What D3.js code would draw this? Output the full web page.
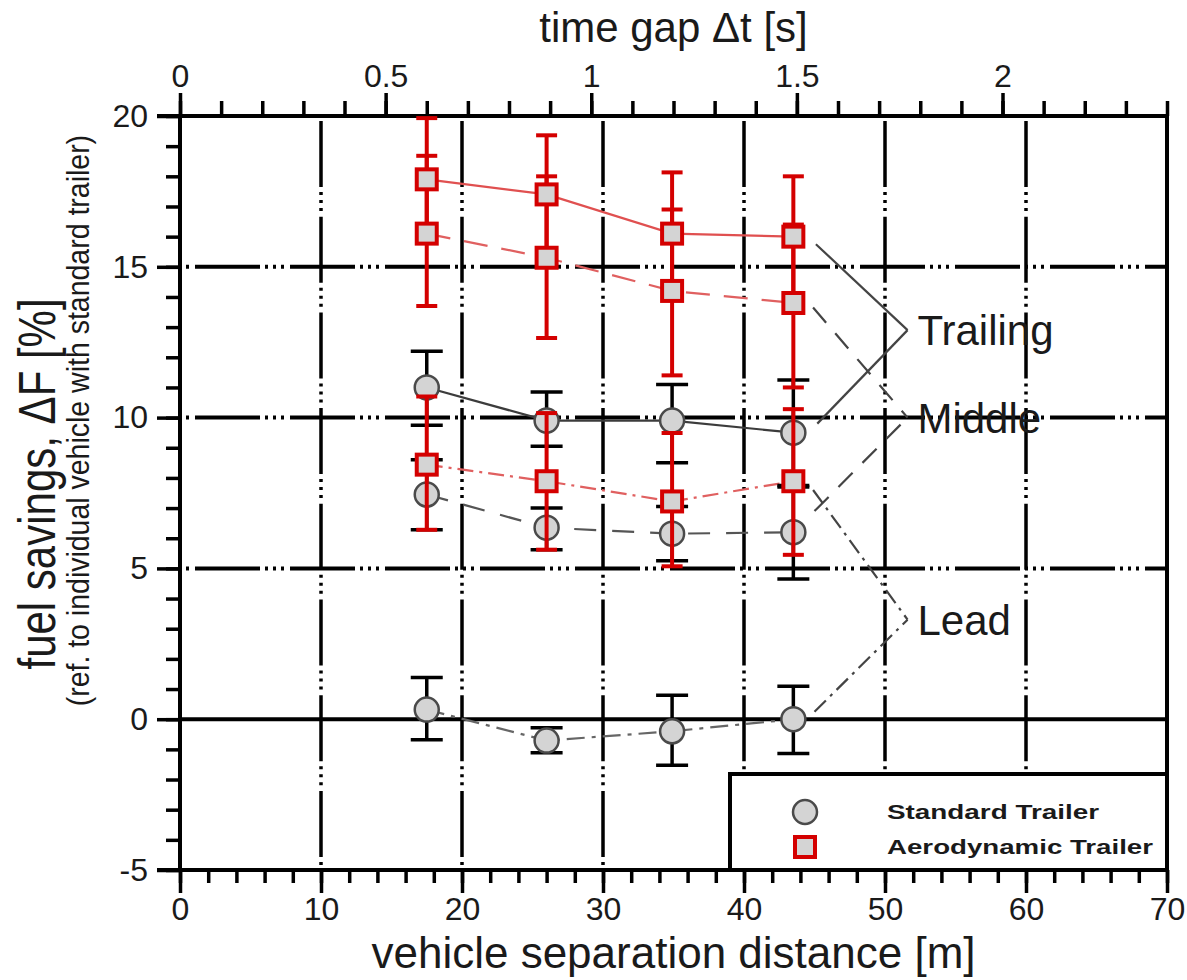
<!DOCTYPE html>
<html>
<head>
<meta charset="utf-8">
<script src="https://cdn.jsdelivr.net/npm/d3@7"></script>
<style>
  body { margin: 0; background: #fff; }
  text { font-family: "Liberation Sans", Arial, sans-serif; fill: #1a1a1a; }
</style>
</head>
<body>
<div id="chart"></div>
<script>
// separation distance [m] of the four measured time gaps
const distance = [17.5, 26.0, 34.9, 43.5];

// standard trailer (circles): value, lower and upper end of error bar
const stdTrailing   = [11.0, 9.9, 9.9, 9.5];
const stdTrailingLo = [9.75, 9.05, 8.5, 7.75];
const stdTrailingHi = [12.2, 10.85, 11.1, 11.25];
const stdMiddle     = [7.45, 6.35, 6.15, 6.2];
const stdMiddleLo   = [6.28, 5.62, 5.25, 4.65];
const stdMiddleHi   = [8.6, 7.0, 7.05, 7.7];
const stdLead       = [0.32, -0.71, -0.4, 0.0];
const stdLeadLo     = [-0.68, -1.11, -1.53, -1.14];
const stdLeadHi     = [1.38, -0.28, 0.79, 1.09];

// aerodynamic trailer (squares)
const aeroTrailing   = [17.9, 17.4, 16.1, 16.0];
const aeroTrailingLo = [15.9, 15.4, 14.1, 14.0];
const aeroTrailingHi = [19.93, 19.36, 18.13, 18.0];
const aeroMiddle     = [16.1, 15.3, 14.2, 13.8];
const aeroMiddleLo   = [13.7, 12.64, 11.4, 11.0];
const aeroMiddleHi   = [18.68, 18.0, 16.9, 16.4];
const aeroLead       = [8.44, 7.89, 7.22, 7.89];
const aeroLeadLo     = [6.28, 5.62, 5.07, 5.45];
const aeroLeadHi     = [10.7, 10.15, 9.49, 10.28];

// axis ticks
const xTicks = [0, 10, 20, 30, 40, 50, 60, 70];
const yTicks = [-5, 0, 5, 10, 15, 20];
const timeTicks = [0, 0.5, 1, 1.5, 2];
const gridX = [10, 20, 30, 40, 50, 60];
const gridY = [5, 10, 15];

// position labels on the right
const positionNames = ["Trailing", "Middle", "Lead"];
const positionAt = [12.9, 10.0, 3.3];

const width = 1187, height = 980;
const plot = {left: 180, right: 1167, top: 116, bottom: 870};

const svg = d3.select("#chart")
  .append("svg")
  .attr("width", width)
  .attr("height", height);

const x = d3.scaleLinear().domain([0, 70]).range([plot.left, plot.right]);
const xt = d3.scaleLinear().domain([0, 2.4]).range([plot.left, plot.right]);
const y = d3.scaleLinear().domain([-5, 20]).range([plot.bottom, plot.top]);

// grid lines (dash dot dot dot)
svg.append("g").selectAll("line")
  .data(gridX)
  .join("line")
  .attr("x1", d => x(d)).attr("x2", d => x(d))
  .attr("y1", y(20)).attr("y2", y(-5))
  .attr("stroke", "#000").attr("stroke-width", 3.5)
  .attr("stroke-dasharray", "66 5 3 5 3 5 3 5.7")
  .attr("stroke-dashoffset", 90.7);

svg.append("g").selectAll("line")
  .data(gridY)
  .join("line")
  .attr("x1", x(0)).attr("x2", x(70))
  .attr("y1", d => y(d)).attr("y2", d => y(d))
  .attr("stroke", "#000").attr("stroke-width", 4)
  .attr("stroke-dasharray", "65 5 3 5 3 5 3 6")
  .attr("stroke-dashoffset", 80);

svg.append("line")
  .attr("x1", x(0)).attr("x2", x(70))
  .attr("y1", y(0)).attr("y2", y(0))
  .attr("stroke", "#000").attr("stroke-width", 4);

// legend box (covers the grid below it)
const legend = svg.append("g");
legend.append("rect")
  .attr("x", 730).attr("y", 774)
  .attr("width", x(70) - 730).attr("height", y(-5) - 774)
  .attr("fill", "#fff").attr("stroke", "#000").attr("stroke-width", 4);

// axes
function styleAxis(g) {
  g.select(".domain").remove();
  g.selectAll(".tick line").attr("stroke", "#000").attr("stroke-width", 3.5);
  g.selectAll(".tick text")
    .style("font-family", "'Liberation Sans', Arial, sans-serif")
    .attr("font-size", 32).attr("fill", "#1a1a1a");
}
const plain = d => String(d);

svg.append("g")
  .attr("transform", `translate(0,${plot.bottom})`)
  .call(d3.axisBottom(x).tickValues(d3.range(0, 71, 2)).tickSize(13).tickFormat(""))
  .call(styleAxis);
svg.append("g")
  .attr("transform", `translate(0,${plot.bottom})`)
  .call(d3.axisBottom(x).tickValues(xTicks).tickSize(23).tickPadding(4).tickFormat(plain))
  .call(styleAxis);

svg.append("g")
  .attr("transform", `translate(0,${plot.top})`)
  .call(d3.axisTop(xt).tickValues(d3.range(0, 2.41, 0.1)).tickSize(15).tickFormat(""))
  .call(styleAxis);
svg.append("g")
  .attr("transform", `translate(0,${plot.top})`)
  .call(d3.axisTop(xt).tickValues(timeTicks).tickSize(23).tickPadding(6).tickFormat(plain))
  .call(styleAxis);

svg.append("g")
  .attr("transform", `translate(${plot.left},0)`)
  .call(d3.axisLeft(y).tickValues(d3.range(-5, 21, 1)).tickSize(14).tickFormat(""))
  .call(styleAxis);
svg.append("g")
  .attr("transform", `translate(${plot.left},0)`)
  .call(d3.axisLeft(y).tickValues(yTicks).tickSize(23).tickPadding(9).tickFormat(plain))
  .call(styleAxis);

// frame
const frame = svg.append("g").attr("stroke", "#000").attr("stroke-width", 4);
frame.append("line").attr("x1", x(0) - 23).attr("x2", x(70) + 2).attr("y1", y(20)).attr("y2", y(20));
frame.append("line").attr("x1", x(0) - 23).attr("x2", x(70) + 2).attr("y1", y(-5)).attr("y2", y(-5));
frame.append("line").attr("x1", x(0)).attr("x2", x(0)).attr("y1", y(20)).attr("y2", y(-5));
frame.append("line").attr("x1", x(70)).attr("x2", x(70)).attr("y1", y(20)).attr("y2", y(-5));

// axis titles
svg.append("text")
  .attr("x", x(35)).attr("y", 42)
  .attr("text-anchor", "middle").attr("font-size", 42)
  .text("time gap Δt [s]");
svg.append("text")
  .attr("x", x(35)).attr("y", 968)
  .attr("text-anchor", "middle").attr("font-size", 44)
  .text("vehicle separation distance [m]");
svg.append("text")
  .attr("transform", `translate(55,${y(7.8)}) scale(1.25,1) rotate(-90)`)
  .attr("text-anchor", "middle").attr("font-size", 42)
  .text("fuel savings, ΔF [%]");
svg.append("text")
  .attr("transform", `translate(89,${y(9.9)}) scale(1.1,1) rotate(-90)`)
  .attr("text-anchor", "middle").attr("font-size", 28.5).attr("fill", "#3a3a3a")
  .text("(ref. to individual vehicle with standard trailer)");

// series lines
const line = d3.line().x((d, i) => x(distance[i])).y(d => y(d));
const series = [
  {v: stdTrailing, color: "#3c3c3c", dash: null},
  {v: stdMiddle, color: "#555", dash: "22 16"},
  {v: stdLead, color: "#666", dash: "18 7 4 7"},
  {v: aeroTrailing, color: "#e05050", dash: null},
  {v: aeroMiddle, color: "#e06060", dash: "24 14"},
  {v: aeroLead, color: "#e06060", dash: "16 6 3 6"}
];
svg.append("g").selectAll("path")
  .data(series)
  .join("path")
  .attr("d", d => line(d.v))
  .attr("fill", "none")
  .attr("stroke", d => d.color)
  .attr("stroke-width", 2.2)
  .attr("stroke-dasharray", d => d.dash);

// leader lines from the last points to the position labels
const leaders = [
  {from: [45.1, 15.75], to: [51.6, positionAt[0]], dash: null},
  {from: [45.2, 9.8], to: [51.6, positionAt[0]], dash: null},
  {from: [44.9, 13.65], to: [51.6, positionAt[1]], dash: "20 14"},
  {from: [45.0, 6.9], to: [51.6, positionAt[1]], dash: "20 14"},
  {from: [44.9, 7.6], to: [51.6, positionAt[2]], dash: "16 6 3 6"},
  {from: [45.0, 0.25], to: [51.6, positionAt[2]], dash: "16 6 3 6"}
];
svg.append("g").selectAll("line")
  .data(leaders)
  .join("line")
  .attr("x1", d => x(d.from[0])).attr("y1", d => y(d.from[1]))
  .attr("x2", d => x(d.to[0])).attr("y2", d => y(d.to[1]))
  .attr("stroke", "#444").attr("stroke-width", 2.2)
  .attr("stroke-dasharray", d => d.dash);

svg.append("g").selectAll("text")
  .data(positionNames)
  .join("text")
  .attr("x", x(52.3))
  .attr("y", (d, i) => y(positionAt[i]))
  .attr("dy", "0.36em")
  .attr("font-size", 42)
  .attr("fill", "#1c2233")
  .text(d => d);

// error bars + markers
function errorBars(vals, lo, hi, color, cap, sw) {
  const g = svg.append("g").attr("stroke", color).attr("stroke-width", sw);
  vals.forEach((v, i) => {
    const cx = x(distance[i]);
    g.append("line").attr("x1", cx).attr("x2", cx).attr("y1", y(lo[i])).attr("y2", y(hi[i]));
    g.append("line").attr("x1", cx - cap).attr("x2", cx + cap).attr("y1", y(lo[i])).attr("y2", y(lo[i]));
    g.append("line").attr("x1", cx - cap).attr("x2", cx + cap).attr("y1", y(hi[i])).attr("y2", y(hi[i]));
  });
}
function circles(vals) {
  svg.append("g").selectAll("circle")
    .data(vals)
    .join("circle")
    .attr("cx", (d, i) => x(distance[i]))
    .attr("cy", d => y(d))
    .attr("r", 12)
    .attr("fill", "#d4d4d4").attr("stroke", "#4a4a4a").attr("stroke-width", 2.5);
}
function squares(vals) {
  svg.append("g").selectAll("rect")
    .data(vals)
    .join("rect")
    .attr("x", (d, i) => x(distance[i]) - 10)
    .attr("y", d => y(d) - 10)
    .attr("width", 20).attr("height", 20)
    .attr("fill", "#d4d4d4").attr("stroke", "#d40000").attr("stroke-width", 4);
}

errorBars(stdTrailing, stdTrailingLo, stdTrailingHi, "#000", 16, 3.5);
errorBars(stdMiddle, stdMiddleLo, stdMiddleHi, "#000", 16, 3.5);
errorBars(stdLead, stdLeadLo, stdLeadHi, "#000", 16, 3.5);
circles(stdTrailing);
circles(stdMiddle);
circles(stdLead);
errorBars(aeroTrailing, aeroTrailingLo, aeroTrailingHi, "#d40000", 10.5, 4);
errorBars(aeroMiddle, aeroMiddleLo, aeroMiddleHi, "#d40000", 10.5, 4);
errorBars(aeroLead, aeroLeadLo, aeroLeadHi, "#d40000", 10.5, 4);
squares(aeroTrailing);
squares(aeroMiddle);
squares(aeroLead);

// legend entries
legend.append("circle")
  .attr("cx", 805).attr("cy", 812).attr("r", 12)
  .attr("fill", "#d4d4d4").attr("stroke", "#4a4a4a").attr("stroke-width", 2.5);
legend.append("rect")
  .attr("x", 795).attr("y", 837).attr("width", 20).attr("height", 20)
  .attr("fill", "#d4d4d4").attr("stroke", "#d40000").attr("stroke-width", 4);
legend.append("text")
  .attr("x", 887).attr("y", 819)
  .attr("font-size", 21).attr("font-weight", "bold")
  .attr("textLength", 212).attr("lengthAdjust", "spacingAndGlyphs")
  .text("Standard Trailer");
legend.append("text")
  .attr("x", 887).attr("y", 854)
  .attr("font-size", 21).attr("font-weight", "bold")
  .attr("textLength", 266).attr("lengthAdjust", "spacingAndGlyphs")
  .text("Aerodynamic Trailer");
</script>
</body>
</html>
